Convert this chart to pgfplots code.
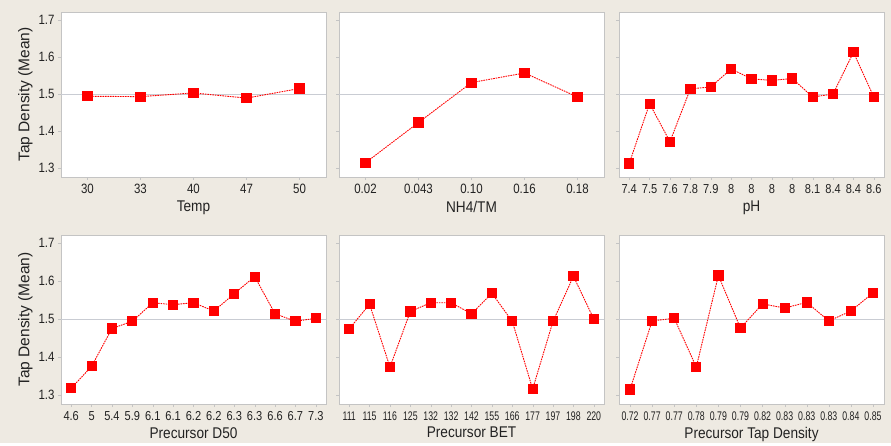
\documentclass[border=0pt]{standalone}
\usepackage{pgfplots}
\pgfplotsset{compat=1.18}
\usepackage{fontspec}
\setmainfont{Liberation Sans}
\newfontfamily\tickfont{Liberation Sans}[FakeStretch=0.85]
\newfontfamily\tickfontB{Liberation Sans}[FakeStretch=0.7]
\newfontfamily\labfont{Liberation Sans}[FakeStretch=0.88]
\definecolor{bgc}{HTML}{EEEAE2}
\definecolor{framec}{HTML}{C4C4C4}
\definecolor{meanc}{HTML}{C9CCD3}
\definecolor{txtc}{HTML}{222222}
\pgfplotsset{
  me/.style={
    scale only axis, width=265pt,
    ymin=1.2755, ymax=1.722,
    ytick={1.3,1.4,1.5,1.6,1.7},
    yticklabel style={/pgf/number format/fixed,/pgf/number format/precision=1,/pgf/number format/fixed zerofill},
    axis line style={framec},
    major tick style={framec},
    tick align=outside, major tick length=3pt,
    xtick pos=bottom, ytick pos=left,
    axis background/.style={fill=white},
    tick label style={font=\tickfont\fontsize{13.5}{13.5}\selectfont, text=txtc},
    label style={text=txtc},
    xlabel style={font=\labfont\fontsize{15.5}{15.5}\selectfont, yshift=0pt},
    ylabel style={font=\fontsize{15.5}{15.5}\selectfont, yshift=-1pt},
    /pgf/number format/assume math mode=true,
    xticklabel style={yshift=-1pt},
  },
  noy/.style={yticklabels={}},
  small ticks/.style={xticklabel style={font=\tickfontB\fontsize{12.5}{12.5}\selectfont}},
  ser/.style={red, dash pattern=on 1.6pt off 0.9pt, line width=0.9pt, mark=square*, mark size=4.6pt, mark options={solid, fill=red, draw=red}},
}
\pgfplotstableread{
x y
0 1.494
1 1.493
2 1.503
3 1.489
4 1.515
}\temp
\pgfplotstableread{
x y
0 1.314
1 1.423
2 1.531
3 1.557
4 1.492
}\nh
\pgfplotstableread{
x y
0 1.312
1 1.474
2 1.371
3 1.514
4 1.519
5 1.568
6 1.541
7 1.537
8 1.542
9 1.492
10 1.500
11 1.613
12 1.492
}\ph
\pgfplotstableread{
x y
0 1.317
1 1.375
2 1.475
3 1.494
4 1.543
5 1.538
6 1.543
7 1.521
8 1.567
9 1.612
10 1.514
11 1.494
12 1.502
}\dfifty
\pgfplotstableread{
x y
0 1.474
1 1.539
2 1.373
3 1.520
4 1.543
5 1.543
6 1.514
7 1.568
8 1.494
9 1.315
10 1.494
11 1.613
12 1.500
}\bet
\pgfplotstableread{
x y
0 1.314
1 1.495
2 1.502
3 1.373
4 1.615
5 1.476
6 1.540
7 1.529
8 1.544
9 1.495
10 1.521
11 1.569
}\tap
\begin{document}
\begin{tikzpicture}
\fill[bgc] (0pt,0pt) rectangle (891pt,443pt);
% top row
\begin{axis}[me, at={(61pt,266pt)}, anchor=south west, height=165pt,
  xmin=-0.5, xmax=4.5, xtick={0,...,4}, xticklabels={30,33,40,47,50},
  xlabel={Temp}, ylabel={Tap Density (Mean)}]
\addplot[meanc, line width=0.8pt, forget plot] coordinates {(-0.5,1.5) (4.5,1.5)};
\addplot[ser] table {\temp};
\end{axis}
\begin{axis}[me, noy, at={(339pt,266pt)}, anchor=south west, height=165pt,
  xmin=-0.5, xmax=4.5, xtick={0,...,4}, xticklabels={0.02,0.043,0.10,0.16,0.18},
  xlabel={NH4/TM}]
\addplot[meanc, line width=0.8pt, forget plot] coordinates {(-0.5,1.5) (4.5,1.5)};
\addplot[ser] table {\nh};
\end{axis}
\begin{axis}[me, noy, at={(619pt,266pt)}, anchor=south west, height=165pt,
  xmin=-0.5, xmax=12.5, xtick={0,...,12}, xticklabels={7.4,7.5,7.6,7.8,7.9,8,8,8,8,8.1,8.4,8.4,8.6},
  xticklabel style={font=\tickfont\fontsize{13}{13}\selectfont},
  xlabel={pH}]
\addplot[meanc, line width=0.8pt, forget plot] coordinates {(-0.5,1.5) (12.5,1.5)};
\addplot[ser] table {\ph};
\end{axis}
% bottom row
\begin{axis}[me, at={(61pt,39pt)}, anchor=south west, height=169pt,
  xmin=-0.5, xmax=12.5, xtick={0,...,12}, xticklabels={4.6,5,5.4,5.9,6.1,6.1,6.2,6.2,6.3,6.3,6.6,6.7,7.3},
  xticklabel style={font=\tickfont\fontsize{13}{13}\selectfont},
  xlabel={Precursor D50}, ylabel={Tap Density (Mean)}]
\addplot[meanc, line width=0.8pt, forget plot] coordinates {(-0.5,1.5) (12.5,1.5)};
\addplot[ser] table {\dfifty};
\end{axis}
\begin{axis}[me, noy, small ticks, at={(339pt,39pt)}, anchor=south west, height=169pt,
  xmin=-0.5, xmax=12.5, xtick={0,...,12}, xticklabels={111,115,116,125,132,132,142,155,166,177,197,198,220},
  xlabel={Precursor BET}]
\addplot[meanc, line width=0.8pt, forget plot] coordinates {(-0.5,1.5) (12.5,1.5)};
\addplot[ser] table {\bet};
\end{axis}
\begin{axis}[me, noy, small ticks, at={(619pt,39pt)}, anchor=south west, height=169pt,
  xmin=-0.5, xmax=11.5, xtick={0,...,11}, xticklabels={0.72,0.77,0.77,0.78,0.79,0.79,0.82,0.83,0.83,0.83,0.84,0.85},
  xlabel={Precursor Tap Density}]
\addplot[meanc, line width=0.8pt, forget plot] coordinates {(-0.5,1.5) (11.5,1.5)};
\addplot[ser] table {\tap};
\end{axis}
\end{tikzpicture}
\end{document}
